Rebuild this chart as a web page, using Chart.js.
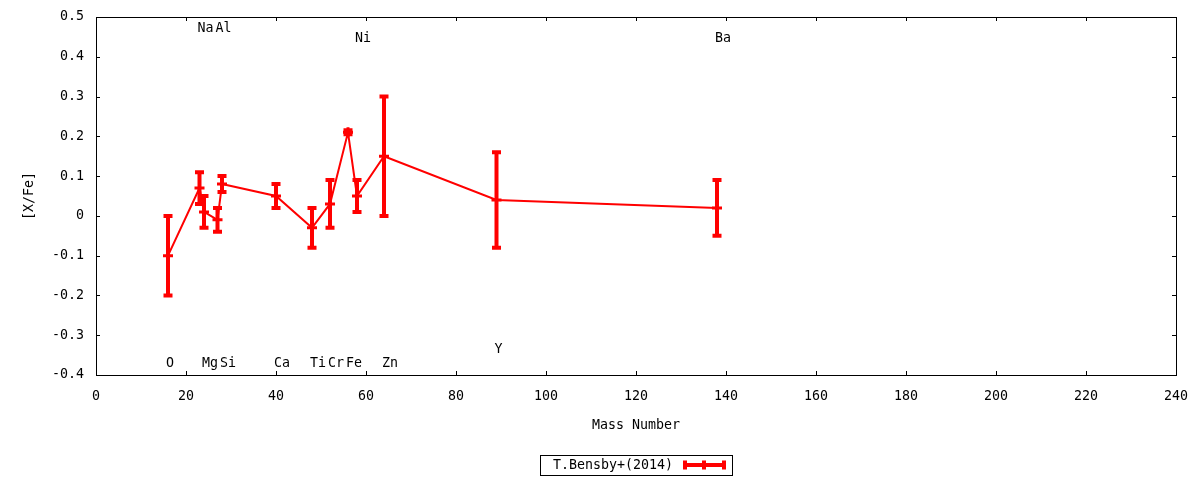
<!DOCTYPE html>
<html>
<head>
<meta charset="utf-8">
<script src="https://cdn.jsdelivr.net/npm/chart.js@4.4.1/dist/chart.umd.min.js"></script>
<style>
  html, body { margin: 0; padding: 0; background: #fff; }
</style>
</head>
<body>
<canvas id="chart" width="1200" height="480"></canvas>
<script>
// abundance ratios vs mass number
const elements = ['O', 'Na', 'Mg', 'Al', 'Si', 'Ca', 'Ti', 'Cr', 'Fe', 'Ni', 'Zn', 'Y', 'Ba'];
const massNumbers = [16, 23, 24, 27, 28, 40, 48, 52, 56, 58, 64, 89, 138];
const xFe = [-0.10, 0.07, 0.01, -0.01, 0.08, 0.05, -0.03, 0.03, 0.21, 0.05, 0.15, 0.04, 0.02];
const xFeErr = [0.10, 0.04, 0.04, 0.03, 0.02, 0.03, 0.05, 0.06, 0.005, 0.04, 0.15, 0.12, 0.07];
// where each element name is written, in [X/Fe] units
const labelY = [-0.37, 0.47, -0.37, 0.47, -0.37, -0.37, -0.37, -0.37, -0.37, 0.445, -0.37, -0.335, 0.445];

const xTicks = { min: 0, max: 240, step: 20 };
const yTicks = { min: -0.4, max: 0.5, step: 0.1 };
const seriesName = 'T.Bensby+(2014)';

const FONT = 'DejaVu Sans Mono';
const RED = '#ff0000';

// gnuplot-like frame with inward ticks on all four sides
const frame = {
  id: 'frame',
  beforeDatasetsDraw(chart) {
    const { ctx, chartArea: a, scales: { x, y } } = chart;
    ctx.save();
    ctx.strokeStyle = '#000';
    ctx.lineWidth = 1;
    ctx.strokeRect(a.left + 0.5, a.top + 0.5, a.right - a.left, a.bottom - a.top);
    ctx.beginPath();
    x.ticks.forEach(t => {
      const px = Math.round(x.getPixelForValue(t.value)) + 0.5;
      ctx.moveTo(px, a.bottom); ctx.lineTo(px, a.bottom - 4);
      ctx.moveTo(px, a.top); ctx.lineTo(px, a.top + 4);
    });
    y.ticks.forEach(t => {
      const py = Math.round(y.getPixelForValue(t.value)) + 0.5;
      ctx.moveTo(a.left, py); ctx.lineTo(a.left + 4, py);
      ctx.moveTo(a.right, py); ctx.lineTo(a.right - 4, py);
    });
    ctx.stroke();
    ctx.restore();
  }
};

function errorBar(ctx, px, top, bottom) {
  ctx.beginPath();
  ctx.moveTo(px, top); ctx.lineTo(px, bottom);
  ctx.moveTo(px - 4.5, top); ctx.lineTo(px + 4.5, top);
  ctx.moveTo(px - 4.5, bottom); ctx.lineTo(px + 4.5, bottom);
  ctx.stroke();
}

const errorBars = {
  id: 'errorBars',
  afterDatasetsDraw(chart) {
    const { ctx, scales: { x, y } } = chart;
    ctx.save();
    ctx.strokeStyle = RED;
    ctx.lineWidth = 4;
    ctx.lineCap = 'butt';
    massNumbers.forEach((m, i) => {
      const px = x.getPixelForValue(m);
      errorBar(ctx, px, y.getPixelForValue(xFe[i] + xFeErr[i]), y.getPixelForValue(xFe[i] - xFeErr[i]));
    });
    ctx.restore();
  }
};

const elementLabels = {
  id: 'elementLabels',
  afterDraw(chart) {
    const { ctx, scales: { x, y } } = chart;
    ctx.save();
    ctx.fillStyle = '#000';
    ctx.font = '13.3px "' + FONT + '"';
    ctx.textAlign = 'left';
    ctx.textBaseline = 'middle';
    elements.forEach((el, i) => {
      ctx.fillText(el, x.getPixelForValue(massNumbers[i]) - 2, y.getPixelForValue(labelY[i]));
    });
    ctx.restore();
  }
};

// boxed key below the plot
const keyBox = {
  id: 'keyBox',
  afterDraw(chart) {
    const ctx = chart.ctx;
    ctx.save();
    ctx.strokeStyle = '#000';
    ctx.lineWidth = 1;
    ctx.strokeRect(540.5, 455.5, 192, 20);
    ctx.fillStyle = '#000';
    ctx.font = '13.3px "' + FONT + '"';
    ctx.textAlign = 'right';
    ctx.textBaseline = 'middle';
    ctx.fillText(seriesName, 673, 465.5);
    ctx.strokeStyle = RED;
    ctx.lineWidth = 4;
    ctx.beginPath();
    ctx.moveTo(683, 465); ctx.lineTo(726, 465);
    ctx.moveTo(685, 460.5); ctx.lineTo(685, 469.5);
    ctx.moveTo(724, 460.5); ctx.lineTo(724, 469.5);
    ctx.moveTo(704, 460.5); ctx.lineTo(704, 469.5);
    ctx.stroke();
    ctx.restore();
  }
};

const fmt = v => String(Number(v.toFixed(1)));

new Chart(document.getElementById('chart'), {
  type: 'scatter',
  data: {
    datasets: [{
      label: seriesName,
      data: massNumbers.map((m, i) => ({ x: m, y: xFe[i] })),
      showLine: true,
      borderColor: RED,
      backgroundColor: RED,
      borderWidth: 2,
      pointStyle: 'cross',
      pointRadius: 5,
      pointBorderWidth: 3,
      pointHoverRadius: 5,
      tension: 0
    }]
  },
  plugins: [frame, errorBars, elementLabels, keyBox],
  options: {
    responsive: false,
    animation: false,
    devicePixelRatio: 1,
    layout: { padding: { top: 17, right: 24, left: 0, bottom: 0 } },
    plugins: {
      legend: { display: false },
      tooltip: { enabled: false }
    },
    scales: {
      x: {
        type: 'linear',
        min: xTicks.min,
        max: xTicks.max,
        afterFit: s => { s.height = 105; s.paddingLeft = 0; s.paddingRight = 0; },
        grid: { display: false, drawTicks: false },
        border: { display: false },
        ticks: {
          stepSize: xTicks.step,
          autoSkip: false,
          padding: 14,
          color: '#000',
          font: { family: FONT, size: 13.3 },
          maxRotation: 0
        },
        title: {
          display: true,
          text: 'Mass Number',
          color: '#000',
          font: { family: FONT, size: 13.3 },
          padding: { top: 0, bottom: 46 }
        }
      },
      y: {
        type: 'linear',
        min: yTicks.min,
        max: yTicks.max,
        afterFit: s => { s.width = 96; s.paddingTop = 0; s.paddingBottom = 0; },
        grid: { display: false, drawTicks: false },
        border: { display: false },
        ticks: {
          stepSize: yTicks.step,
          autoSkip: false,
          padding: 12,
          color: '#000',
          font: { family: FONT, size: 13.3 },
          callback: v => fmt(v)
        },
        title: {
          display: true,
          text: '[X/Fe]',
          color: '#000',
          font: { family: FONT, size: 13.3 },
          padding: { top: 22, bottom: 0 }
        }
      }
    }
  }
});
</script>
</body>
</html>
